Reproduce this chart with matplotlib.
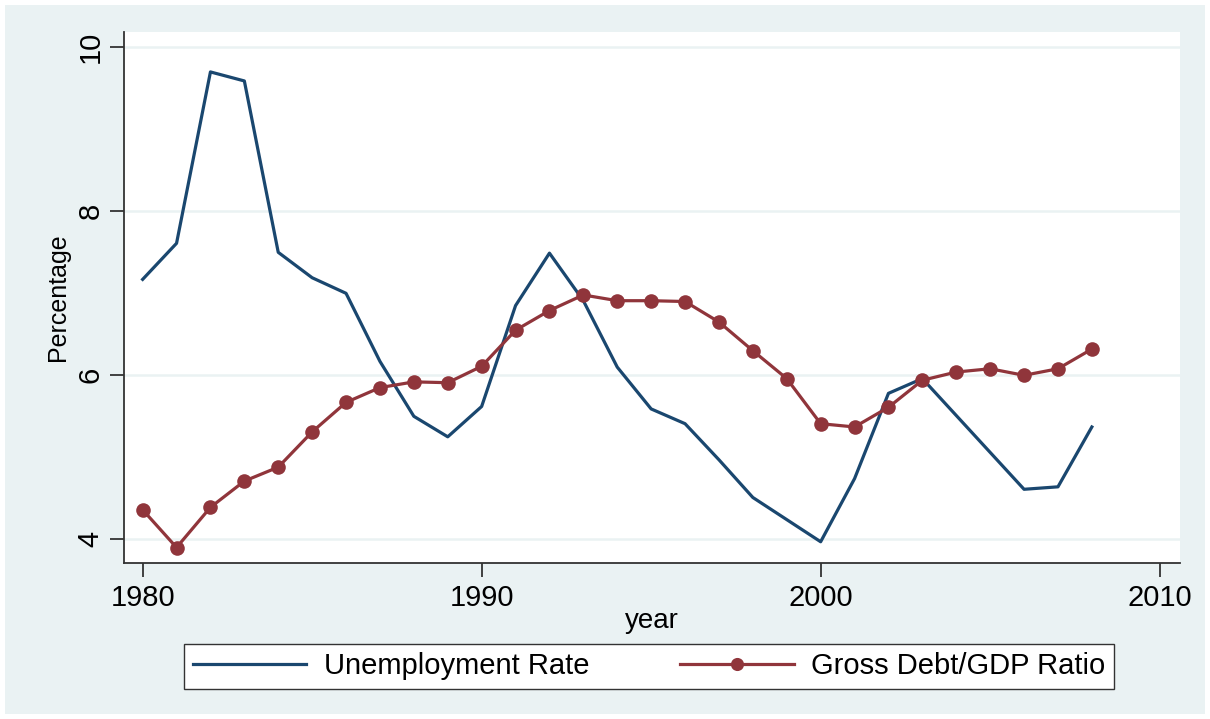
"""Unemployment rate vs gross debt/GDP ratio, 1980-2008 (Stata s2color look)."""
import matplotlib

matplotlib.use("Agg")
import matplotlib.pyplot as plt
from matplotlib.patches import Rectangle

years = list(range(1980, 2009))
unemployment = [7.17, 7.61, 9.70, 9.59, 7.50, 7.19, 7.00, 6.17, 5.50, 5.25,
                5.62, 6.85, 7.49, 6.91, 6.10, 5.59, 5.41, 4.97, 4.51, 4.24,
                3.97, 4.74, 5.78, 5.96, 5.51, 5.06, 4.61, 4.64, 5.37]
debt_gdp = [4.36, 3.90, 4.39, 4.71, 4.88, 5.31, 5.67, 5.85, 5.92, 5.91,
            6.11, 6.55, 6.79, 6.98, 6.91, 6.91, 6.90, 6.65, 6.30, 5.96,
            5.41, 5.37, 5.61, 5.94, 6.04, 6.08, 6.00, 6.08, 6.32]
x_ticks = [1980, 1990, 2000, 2010]
y_ticks = [4, 6, 8, 10]

BG = "#eaf2f3"
BLUE = "#1a476f"
MAROON = "#90353b"
plt.rcParams["font.family"] = ["Liberation Sans", "DejaVu Sans"]

fig = plt.figure(figsize=(12.1, 7.19), dpi=100, facecolor="white")
fig.patches.append(Rectangle((5 / 1210, 5 / 719), 1200 / 1210, 709 / 719,
                             transform=fig.transFigure, facecolor=BG,
                             edgecolor="none", zorder=-10))
ax = fig.add_axes([124 / 1210, 1 - 563 / 719, 1056 / 1210, 531 / 719])
ax.set_facecolor("white")

ax.plot(years, unemployment, color=BLUE, lw=2.3, label="Unemployment Rate", zorder=3)
ax.plot(years, debt_gdp, color=MAROON, lw=2.3, marker="o", markersize=10.5,
        markeredgewidth=0, label="Gross Debt/GDP Ratio", zorder=4)

ax.set_xlim(1979.45, 2010.6)
ax.set_ylim(3.711, 10.187)
ax.set_xticks(x_ticks)
ax.set_yticks(y_ticks)
ax.grid(axis="y", color=BG, lw=1.8)
ax.set_axisbelow(True)
for side in ("top", "right"):
    ax.spines[side].set_visible(False)
for side in ("left", "bottom"):
    ax.spines[side].set_color("#333333")
    ax.spines[side].set_linewidth(1.3)
ax.tick_params(axis="both", length=10, width=1.3, color="#333333", labelsize=21, pad=5)
ax.tick_params(axis="y", pad=4)
for lab in ax.get_yticklabels():
    lab.set_rotation(90)
    lab.set_va("center")

ax.set_ylabel("Percentage", fontsize=18, labelpad=5)
ax.set_xlabel("year", fontsize=20, labelpad=-3)

fig.legend(loc="center", bbox_to_anchor=(184 / 1210, 1 - 690 / 719, 930 / 1210, 47 / 719),
           mode="expand", ncol=2, fontsize=21, frameon=True, fancybox=False,
           edgecolor="#333333", facecolor="white", framealpha=1,
           handlelength=3.9, handletextpad=0.6, borderaxespad=0, borderpad=0.3,
           markerscale=0.9)

fig.savefig("out.png", dpi=100, facecolor=fig.get_facecolor())
